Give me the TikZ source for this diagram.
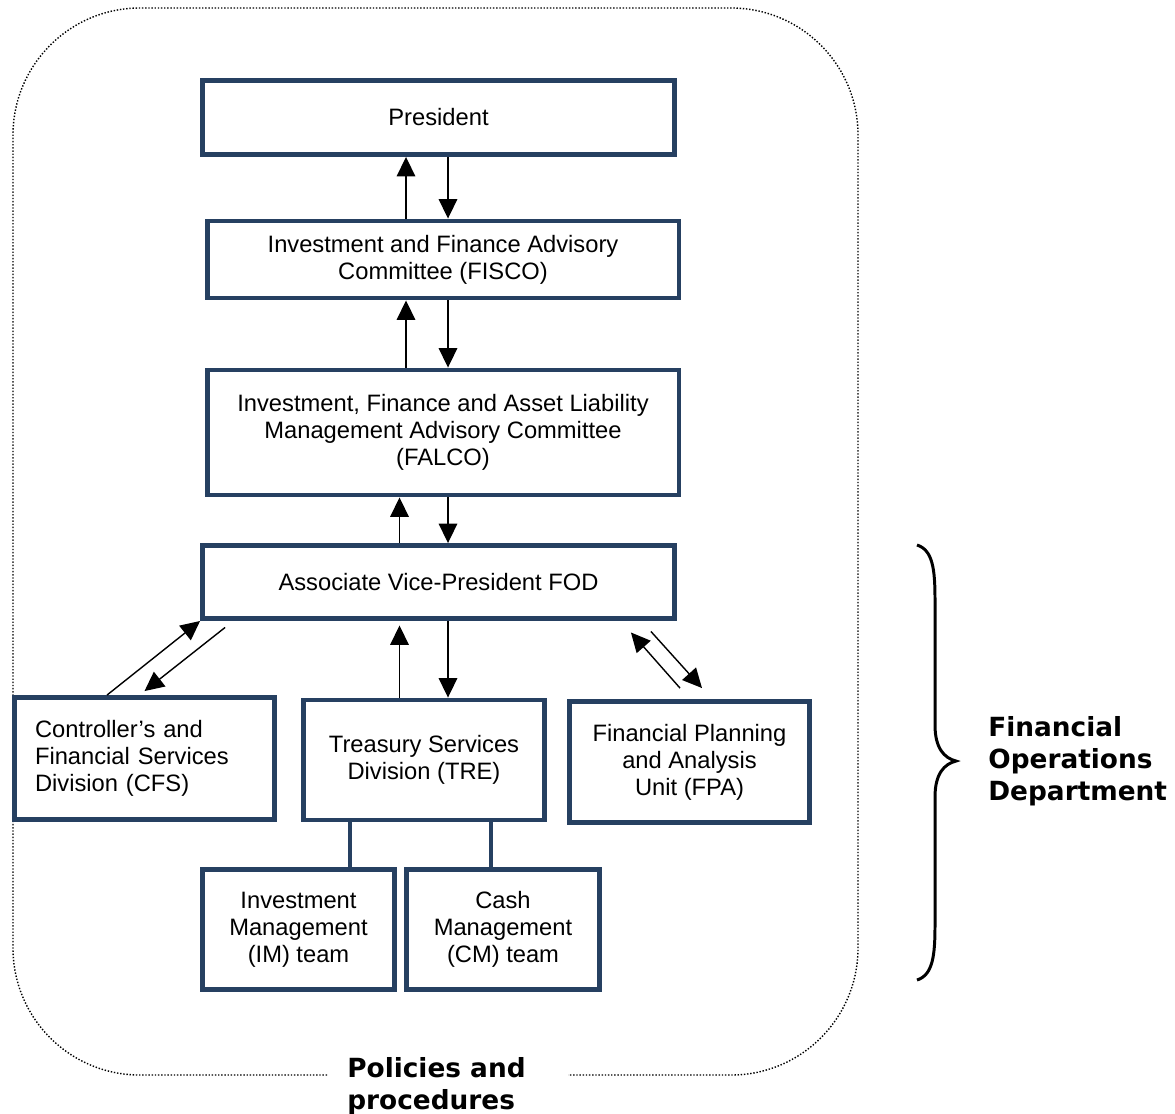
\documentclass[tikz,border=0pt]{standalone}
\usepackage{fontspec}
\setmainfont{Liberation Sans}
\newfontfamily\labelfont{DejaVu Sans}
\usetikzlibrary{arrows.meta}
\definecolor{boxblue}{RGB}{38,64,97}

\begin{document}
\begin{tikzpicture}[
  x=0.02cm, y=-0.02cm,
  font=\fontsize{13.5}{15.4}\selectfont,
  box/.style={draw=boxblue, line width=2.8pt, fill=white,
              align=center, inner sep=0pt},
  wide/.style={box, minimum width=9.44cm},
  unit/.style={box, minimum width=4.82cm, minimum height=2.4cm},
  team/.style={box, minimum width=3.85cm, minimum height=2.4cm},
  arr/.style={-{Triangle[length=11pt,width=10.5pt]}, line width=0.8pt},
  link/.style={draw=boxblue, line width=2.8pt},
  lbl/.style={font=\labelfont\bfseries\fontsize{15}{18.2}\selectfont,
              align=left, inner sep=0pt}
]
\useasboundingbox (0,0) rectangle (1175,1113);

% dotted frame, open at the bottom for the label
\draw[line width=0.8pt, dash pattern=on 0.8pt off 1pt, rounded corners=2.54cm]
  (327,1075) -- (13,1075) -- (13,8) -- (858,8) -- (858,1075) -- (568,1075);

\node[wide, minimum height=1.48cm] (pres) at (438.5,117.5) {President};
\node[wide, minimum height=1.54cm] (fisco) at (443,259.5)
  {Investment and Finance Advisory\\Committee (FISCO)};
\node[wide, minimum height=2.5cm] (falco) at (443,432.5)
  {Investment, Finance and Asset Liability\\
   Management Advisory Committee\\(FALCO)};
\node[wide, minimum height=1.46cm] (avp) at (438.5,582)
  {Associate Vice-President FOD};

\node[box, minimum height=2.44cm, text width=4.38cm, inner xsep=0.41cm,
      align=left] (cfs) at (144.5,758.5)
  {Controller’s and\\Financial Services\\Division (CFS)};
\node[unit] (tre) at (424,760)
  {Treasury Services\\Division (TRE)};
\node[unit, minimum width=4.8cm, minimum height=2.42cm] (fpa) at (689.5,762)
  {Financial Planning\\and Analysis\\Unit (FPA)};

\node[team] (im) at (298.5,929.5)
  {Investment\\Management\\(IM) team};
\node[team] (cm) at (503,929.5)
  {Cash\\Management\\(CM) team};

% columns of the vertical arrows and links
\coordinate (xl) at (406,0);
\coordinate (xm) at (399.5,0);
\coordinate (xr) at (448,0);
\coordinate (xi) at (350,0);
\coordinate (xc) at (491,0);

\draw[arr] (fisco.north -| xl) -- (pres.south -| xl);
\draw[arr] (pres.south -| xr)  -- (fisco.north -| xr);
\draw[arr] (falco.north -| xl) -- (fisco.south -| xl);
\draw[arr] (fisco.south -| xr) -- (falco.north -| xr);
\draw[arr] (avp.north -| xm)   -- (falco.south -| xm);
\draw[arr] (falco.south -| xr) -- (avp.north -| xr);
\draw[arr, shorten >=0.09cm] (tre.north -| xm) -- (avp.south -| xm);
\draw[arr] (avp.south -| xr)   -- (tre.north -| xr);

\draw[arr] ([xshift=-0.75cm]cfs.north) -- (avp.south west);
\draw[arr] ([xshift=0.5cm, yshift=-0.13cm]avp.south west)
  -- ([yshift=0.08cm]cfs.north);
\draw[arr] ([xshift=-0.19cm, yshift=0.22cm]fpa.north)
  -- ([xshift=-0.92cm, yshift=-0.23cm]avp.south east);
\draw[arr] ([xshift=-0.52cm, yshift=-0.21cm]avp.south east)
  -- ([xshift=0.25cm, yshift=0.22cm]fpa.north);

\draw[link] (tre.south -| xi) -- (im.north -| xi);
\draw[link] (tre.south -| xc) -- (cm.north -| xc);

% brace
\draw[line width=1.7pt]
  (917,545) .. controls (933,550) and (935,570) .. (935,600)
  -- (935,725) .. controls (935,748) and (944,758) .. (956,761)
  .. controls (944,764) and (935,774) .. (935,797)
  -- (935,925) .. controls (935,955) and (933,975) .. (917,980);

\node[lbl, anchor=west] (fod) at (988,761)
  {Financial\\Operations\\Department};
\node[lbl, anchor=north west] (pol) at (347,1057)
  {Policies and\\procedures};

\end{tikzpicture}
\end{document}
